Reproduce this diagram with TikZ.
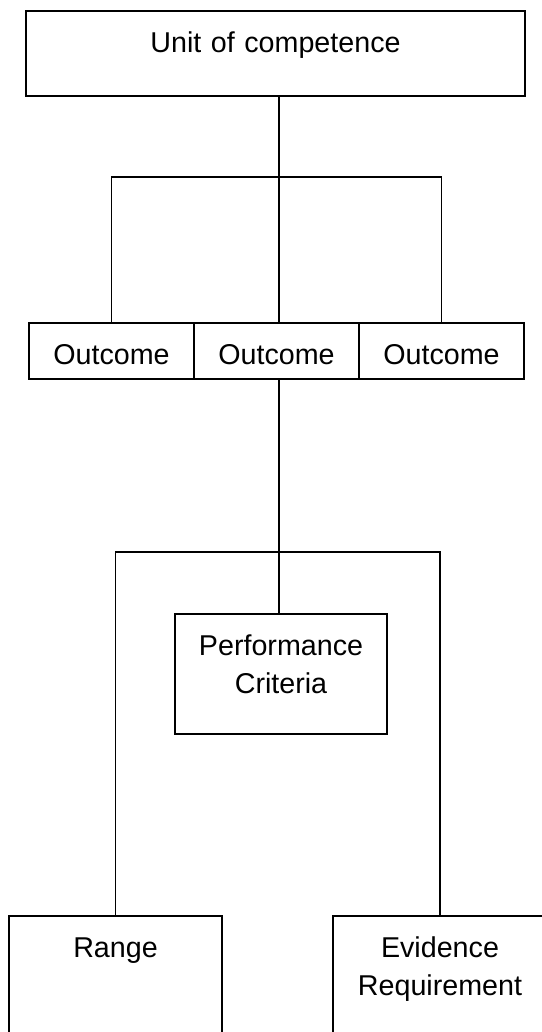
\documentclass[tikz,border=0pt]{standalone}
\usepackage{fontspec}
\setmainfont{Liberation Sans}
\usetikzlibrary{positioning,calc}
\tikzset{box/.style={draw,line width=1.3pt,inner sep=0pt,outer sep=0pt,align=center,text height=30.75pt,font=\fontsize{21.5}{28.5}\selectfont}}
\tikzset{link/.style={line width=1.3pt}}

\begin{document}
\begin{tikzpicture}[x=0.75pt,y=-0.75pt]
    \path[use as bounding box,clip] (0,0) rectangle (542,1032);
    % unit and its outcomes
    \node[box,anchor=north,text width=374.25pt,text depth=33pt] (unit) at (275.5,11) {Unit of competence};
    \node[box,anchor=north,text width=123.75pt,text depth=11.25pt] (out1) at (111.5,323) {Outcome};
    \node[box,right=0pt of out1,text width=123.75pt,text depth=11.25pt] (out2) {Outcome};
    \node[box,right=0pt of out2,text width=123.75pt,text depth=11.25pt] (out3) {Outcome};
    % parts of one outcome
    \node[box,anchor=north,text width=159pt,text depth=59.25pt] (perf) at (281,614) {Performance\\Criteria};
    \node[box,anchor=north,text width=159.75pt,text depth=67.5pt] (range) at (115.5,916) {Range};
    \node[box,anchor=north,text width=160.5pt,text depth=67.5pt] (evid) at (440,916) {Evidence\\Requirement};
    \coordinate (split1) at (279,177);
    \coordinate (split2) at (279,552);
    \draw[link] (split1 |- unit.south) -- (split1 |- out2.north);
    \draw[link] (out1.north) |- (split1) -| (out3.north);
    \draw[link] (split2 |- out2.south) -- (split2 |- perf.north);
    \draw[link] (range.north) |- (split2) -| (evid.north);
\end{tikzpicture}
\end{document}
